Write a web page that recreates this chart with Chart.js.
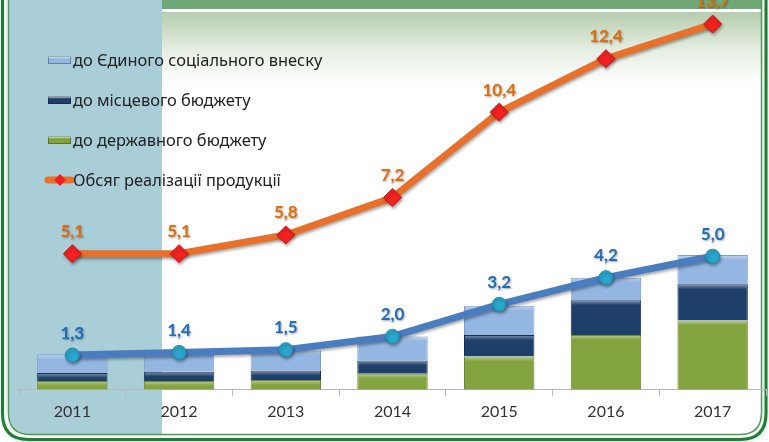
<!DOCTYPE html>
<html>
<head>
<meta charset="utf-8">
<script src="https://cdn.jsdelivr.net/npm/chart.js@4.4.1/dist/chart.umd.min.js"></script>
<style>
  html, body { margin: 0; padding: 0; background: #ffffff; }
  #wrap { width: 769px; height: 442px; position: relative; }
</style>
</head>
<body>
<div id="wrap"><canvas id="c" width="769" height="442"></canvas></div>
<script>
// ---- data ----
const categories = ['2011', '2012', '2013', '2014', '2015', '2016', '2017'];
const socialTax   = [0.70, 0.75, 0.75, 0.90, 1.10, 0.85, 1.10]; // до Єдиного соціального внеску
const localBudget = [0.30, 0.35, 0.35, 0.50, 0.80, 1.30, 1.35]; // до місцевого бюджету
const stateBudget = [0.33, 0.33, 0.37, 0.60, 1.25, 2.05, 2.60]; // до державного бюджету
const totalTax    = [1.3, 1.4, 1.5, 2.0, 3.2, 4.2, 5.0];
const salesVolume = [5.1, 5.1, 5.8, 7.2, 10.4, 12.4, 13.7];     // Обсяг реалізації продукції
const seriesLabels = ['до Єдиного соціального внеску', 'до місцевого бюджету', 'до державного бюджету', 'Обсяг реалізації продукції'];

const COL_LB = '#93b6e2', COL_DB = '#1f3f6b', COL_GR = '#82a33e';
const COL_OR = '#e8702a', COL_RED = '#f22222', COL_BL = '#4a7cc0', COL_CY = '#2aa5cc';

function fmt(v) { return v.toFixed(1).replace('.', ','); }

function roundBottomPath(ctx, x0, y0, x1, y1, r) {
  ctx.beginPath();
  ctx.moveTo(x0, y0);
  ctx.lineTo(x1, y0);
  ctx.lineTo(x1, y1 - r);
  ctx.quadraticCurveTo(x1, y1, x1 - r, y1);
  ctx.lineTo(x0 + r, y1);
  ctx.quadraticCurveTo(x0, y1, x0, y1 - r);
  ctx.closePath();
}

const backgroundPlugin = {
  id: 'bg',
  beforeDraw(chart) {
    const ctx = chart.ctx;
    ctx.save();
    ctx.fillStyle = '#ffffff';
    ctx.fillRect(0, 0, 769, 442);
    ctx.shadowColor = 'rgba(0,0,0,0.25)';
    ctx.shadowBlur = 5; ctx.shadowOffsetY = 2;
    roundBottomPath(ctx, 3, -20, 766, 439, 26);
    ctx.fillStyle = '#f4f6f3';
    ctx.fill();
    ctx.shadowColor = 'transparent';
    roundBottomPath(ctx, 9, -20, 761, 434, 22);
    const g = ctx.createLinearGradient(0, 10, 0, 85);
    g.addColorStop(0, '#b3cbab');
    g.addColorStop(0.55, '#e6efe3');
    g.addColorStop(1, '#ffffff');
    ctx.fillStyle = g;
    ctx.fill();
    ctx.save();
    ctx.clip();
    ctx.fillStyle = '#a9ced8';
    ctx.fillRect(9, -20, 153, 460);
    ctx.fillStyle = '#70a878';
    ctx.fillRect(162, 0, 605, 9);
    ctx.fillStyle = '#ffffff';
    ctx.fillRect(162, 9, 605, 3);
    ctx.restore();
    roundBottomPath(ctx, 2.5, -20, 766, 439.5, 26);
    ctx.lineWidth = 3; ctx.strokeStyle = '#1f7e35'; ctx.stroke();
    roundBottomPath(ctx, 8.5, -20, 761.5, 434.5, 22);
    ctx.lineWidth = 1.5; ctx.strokeStyle = '#4f9a5c'; ctx.stroke();
    ctx.restore();
  }
};

const shadowPlugin = {
  id: 'shadow',
  beforeDatasetDraw(chart, args) {
    const ctx = chart.ctx;
    ctx.save();
    if (chart.data.datasets[args.index].type === 'line') {
      ctx.shadowColor = 'rgba(0,0,0,0.35)';
      ctx.shadowBlur = 3; ctx.shadowOffsetX = 1; ctx.shadowOffsetY = 2;
    }
  },
  afterDatasetDraw(chart) { chart.ctx.restore(); }
};

const barShinePlugin = {
  id: 'barShine',
  afterDatasetDraw(chart, args) {
    const ds = chart.data.datasets[args.index];
    if (ds.type !== 'bar') return;
    const ctx = chart.ctx;
    ctx.save();
    args.meta.data.forEach(el => {
      const h = Math.abs(el.base - el.y);
      if (h < 3) return;
      const top = Math.min(el.y, el.base);
      const left = el.x - el.width / 2;
      const g = ctx.createLinearGradient(0, top, 0, top + Math.min(5, h));
      g.addColorStop(0, 'rgba(255,255,255,0.45)');
      g.addColorStop(1, 'rgba(255,255,255,0)');
      ctx.fillStyle = g;
      ctx.fillRect(left + 1, top + 1, el.width - 2, Math.min(5, h - 1));
    });
    ctx.restore();
  }
};

const labelPlugin = {
  id: 'labels',
  afterDatasetsDraw(chart) {
    const ctx = chart.ctx;
    ctx.save();
    ctx.textAlign = 'center';
    ctx.textBaseline = 'middle';
    ctx.font = 'bold 17px Lato, "Open Sans", sans-serif';
    chart.data.datasets.forEach((ds, i) => {
      if (ds.type !== 'line') return;
      const meta = chart.getDatasetMeta(i);
      meta.data.forEach((pt, j) => {
        const y = pt.y - 22;
        ctx.shadowColor = 'rgba(0,0,0,0.35)';
        ctx.shadowBlur = 2; ctx.shadowOffsetX = 1; ctx.shadowOffsetY = 1;
        ctx.fillStyle = ds.labelColor;
        ctx.fillText(fmt(ds.data[j]), pt.x, y);
      });
    });
    ctx.restore();
  }
};

const legendPlugin = {
  id: 'customLegend',
  afterDraw(chart) {
    const ctx = chart.ctx;
    const ds = chart.data.datasets;
    const order = [2, 3, 4, 0];
    ctx.save();
    ctx.font = '16.4px "Noto Sans", "Open Sans", sans-serif';
    ctx.textBaseline = 'middle';
    order.forEach((idx, k) => {
      const d = ds[idx];
      const y = 60 + k * 40;
      if (d.type === 'bar') {
        const gr = ctx.createLinearGradient(0, y - 4, 0, y + 4);
        gr.addColorStop(0, '#ffffff');
        gr.addColorStop(0.35, d.backgroundColor);
        gr.addColorStop(1, d.backgroundColor);
        ctx.fillStyle = gr;
        ctx.fillRect(48, y - 4, 23, 8);
        ctx.strokeStyle = 'rgba(0,0,0,0.3)';
        ctx.lineWidth = 1;
        ctx.strokeRect(48.5, y - 3.5, 22, 7);
      } else {
        ctx.strokeStyle = COL_OR; ctx.lineWidth = 7; ctx.lineCap = 'round';
        ctx.beginPath(); ctx.moveTo(48, y); ctx.lineTo(71, y); ctx.stroke();
        ctx.fillStyle = COL_RED;
        ctx.beginPath();
        ctx.moveTo(60, y - 6); ctx.lineTo(66, y); ctx.lineTo(60, y + 6); ctx.lineTo(54, y);
        ctx.closePath(); ctx.fill();
      }
      ctx.fillStyle = '#222222';
      ctx.fillText(d.label, 73, y + 1);
    });
    ctx.restore();
  }
};

new Chart(document.getElementById('c'), {
  data: {
    labels: categories,
    datasets: [
      { type: 'line', label: seriesLabels[3], data: salesVolume, stack: 'sales', order: 0,
        borderColor: COL_OR, borderWidth: 7, pointStyle: 'rectRot', pointRadius: 9,
        pointBackgroundColor: COL_RED, pointBorderColor: '#d81010', pointBorderWidth: 1,
        tension: 0, clip: false, labelColor: '#e46c0a' },
      { type: 'line', label: 'Загальна сума податків', data: totalTax, stack: 'total', order: 0,
        borderColor: COL_BL, borderWidth: 7, pointStyle: 'circle', pointRadius: 7,
        pointBackgroundColor: COL_CY, pointBorderColor: '#1d8fb3', pointBorderWidth: 1,
        tension: 0, clip: false, labelColor: '#1f6dbb' },
      { type: 'bar', label: seriesLabels[0], data: socialTax, stack: 'tax', order: 3,
        backgroundColor: COL_LB, borderColor: '#7d9fc8', borderWidth: 1 },
      { type: 'bar', label: seriesLabels[1], data: localBudget, stack: 'tax', order: 2,
        backgroundColor: COL_DB, borderColor: '#17304f', borderWidth: 1 },
      { type: 'bar', label: seriesLabels[2], data: stateBudget, stack: 'tax', order: 1,
        backgroundColor: COL_GR, borderColor: '#6a8a2c', borderWidth: 1 }
    ]
  },
  options: {
    responsive: false,
    animation: false,
    layout: { autoPadding: false, padding: { top: 16, left: 19, right: 3, bottom: 15 } },
    datasets: { bar: { categoryPercentage: 1, barPercentage: 0.66 } },
    scales: {
      x: {
        stacked: true,
        offset: true,
        afterFit: (scale) => { scale.paddingLeft = 0; scale.paddingRight = 0; },
        grid: { offset: true, drawOnChartArea: false, drawTicks: true, tickLength: 6, color: '#b8b8b8' },
        border: { display: true, color: '#b8b8b8' },
        ticks: { color: '#333333', padding: 6, font: { family: 'Lato, "Open Sans", sans-serif', size: 16 } }
      },
      y: { display: false, stacked: true, min: 0, max: 14 }
    },
    plugins: { legend: { display: false }, tooltip: { enabled: false } }
  },
  plugins: [backgroundPlugin, shadowPlugin, barShinePlugin, labelPlugin, legendPlugin]
});
</script>
</body>
</html>
